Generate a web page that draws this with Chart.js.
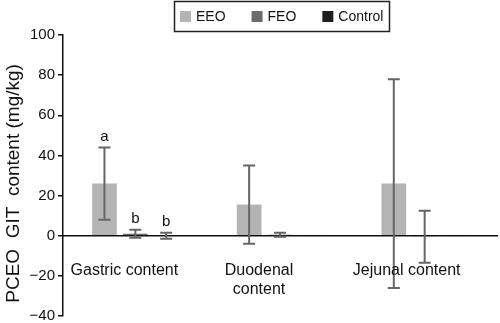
<!DOCTYPE html>
<html>
<head>
<meta charset="utf-8">
<script src="https://cdn.jsdelivr.net/npm/chart.js@4.4.1/dist/chart.umd.min.js"></script>
<style>
  html, body { margin: 0; padding: 0; background: #fff; }
  #wrap { width: 500px; height: 323px; }
</style>
</head>
<body>
<div id="wrap"><canvas id="gitChart"></canvas></div>
<script>
// categories and series
const categories = [['Gastric content'], ['Duodenal', 'content'], ['Jejunal content']];
const seriesNames = ['EEO', 'FEO', 'Control'];
const seriesColors = ['#b4b4b4', '#6c6c6c', '#1e1e1e'];

const eeoMean = [26, 15.5, 26];
const feoMean = [1, 0.5, -0.5];
const controlMean = [0, 0.3, 0.3];

const eeoErr = [18, 19.5, 52];
const feoErr = [2, 1, 13];
const controlErr = [1.5, 0, 0];

const eeoSig = ['a', '', ''];
const feoSig = ['b', '', ''];
const controlSig = ['b', '', ''];

const yTicks = [-40, -20, 0, 20, 40, 60, 80, 100];

const FONT = '"Liberation Sans", Arial, Helvetica, sans-serif';

// error bars + letters
const errorBars = {
    id: 'errorBars',
    afterDatasetsDraw(chart) {
        const ctx = chart.ctx;
        const y = chart.scales.y;
        ctx.save();
        chart.data.datasets.forEach(function(ds, i) {
            const meta = chart.getDatasetMeta(i);
            meta.data.forEach(function(bar, j) {
                const err = ds.errors[j];
                const mean = ds.data[j];
                const yTop = y.getPixelForValue(mean + err);
                if (err > 0) {
                    const yBot = y.getPixelForValue(mean - err);
                    ctx.strokeStyle = '#666';
                    ctx.lineWidth = 2;
                    ctx.beginPath();
                    ctx.moveTo(bar.x, yTop);
                    ctx.lineTo(bar.x, yBot);
                    ctx.moveTo(bar.x - 6, yTop);
                    ctx.lineTo(bar.x + 6, yTop);
                    ctx.moveTo(bar.x - 6, yBot);
                    ctx.lineTo(bar.x + 6, yBot);
                    ctx.stroke();
                }
                if (ds.sig[j]) {
                    ctx.fillStyle = '#111';
                    ctx.font = '15px ' + FONT;
                    ctx.textAlign = 'center';
                    ctx.textBaseline = 'bottom';
                    ctx.fillText(ds.sig[j], bar.x, yTop - 3);
                }
            });
        });
        ctx.restore();
    }
};

// category names inside the plot, under the zero line
const categoryText = {
    id: 'categoryText',
    afterDraw(chart) {
        const ctx = chart.ctx;
        const x = chart.scales.x;
        const y0 = chart.scales.y.getPixelForValue(0);
        const shift = [-11, -21, -18];
        ctx.save();
        ctx.fillStyle = '#111';
        ctx.font = '16px ' + FONT;
        ctx.textAlign = 'center';
        ctx.textBaseline = 'middle';
        categories.forEach(function(lines, j) {
            const cx = x.getPixelForValue(j) + shift[j];
            lines.forEach(function(line, k) {
                ctx.fillText(line, cx, y0 + 35 + k * 19);
            });
        });
        ctx.restore();
    }
};

// boxed legend
const boxLegend = {
    id: 'boxLegend',
    afterDraw(chart) {
        const ctx = chart.ctx;
        ctx.save();
        ctx.strokeStyle = '#222';
        ctx.lineWidth = 1.5;
        ctx.strokeRect(174.5, 1.5, 215, 30);
        ctx.font = '14px ' + FONT;
        ctx.textBaseline = 'middle';
        ctx.textAlign = 'left';
        let px = 180;
        chart.data.datasets.forEach(function(ds) {
            ctx.fillStyle = ds.backgroundColor;
            ctx.fillRect(px, 11, 11, 11);
            ctx.fillStyle = '#111';
            ctx.fillText(ds.label, px + 16, 17);
            px += 16 + ctx.measureText(ds.label).width + 26;
        });
        ctx.restore();
    }
};

const means = [eeoMean, feoMean, controlMean];
const errs = [eeoErr, feoErr, controlErr];
const sigs = [eeoSig, feoSig, controlSig];

const datasets = seriesNames.map(function(name, i) {
    return {
        label: name,
        data: means[i],
        errors: errs[i],
        sig: sigs[i],
        backgroundColor: seriesColors[i],
        borderWidth: 0,
        categoryPercentage: 0.64,
        barPercentage: 0.8
    };
});

new Chart(document.getElementById('gitChart'), {
    type: 'bar',
    data: {
        labels: categories.map(function(l) { return l.join(' '); }),
        datasets: datasets
    },
    options: {
        responsive: true,
        maintainAspectRatio: false,
        animation: false,
        layout: { padding: { top: 35, bottom: 7, right: 3, left: 0 } },
        plugins: {
            legend: { display: false },
            tooltip: { enabled: false }
        },
        scales: {
            x: {
                position: { y: 0 },
                grid: { display: false },
                ticks: { display: false },
                border: { display: true, color: '#111', width: 1.5 }
            },
            y: {
                min: -40,
                max: 100,
                afterFit: function(scale) {
                    scale.width = 63;
                    scale.paddingTop = 0;
                    scale.paddingBottom = 0;
                },
                afterBuildTicks: function(scale) {
                    scale.ticks = yTicks.map(function(v) { return { value: v }; });
                },
                grid: { drawOnChartArea: false, drawTicks: true, tickLength: 5, color: '#111', lineWidth: 1.5 },
                border: { display: true, color: '#111', width: 1.5 },
                ticks: {
                    color: '#111',
                    padding: 3,
                    font: { family: FONT, size: 15 },
                    callback: function(v) { return String(v).replace('-', '\u2212'); }
                },
                title: {
                    display: true,
                    text: 'PCEO  GIT  content (mg/kg)\u00a0\u00a0\u00a0',
                    color: '#111',
                    font: { family: FONT, size: 19 },
                    padding: { top: 2, bottom: 0 }
                }
            }
        }
    },
    plugins: [errorBars, categoryText, boxLegend]
});
</script>
</body>
</html>
